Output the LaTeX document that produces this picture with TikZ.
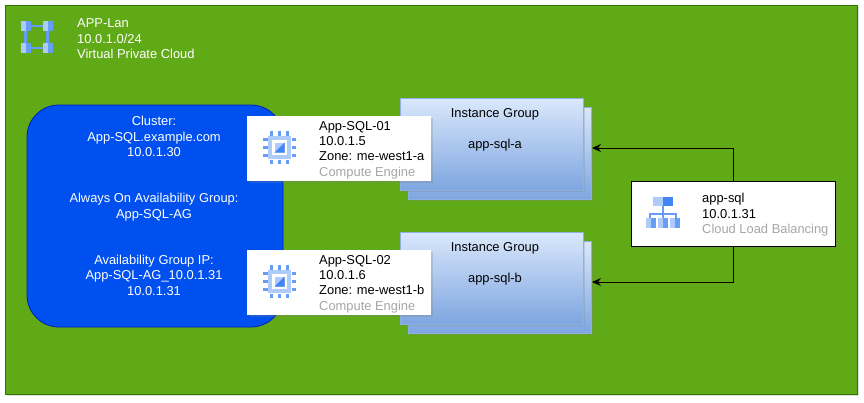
\documentclass[tikz,border=0pt]{standalone}
\usepackage{fontspec}
\setmainfont{Liberation Sans}
\usetikzlibrary{arrows.meta}
\usetikzlibrary{shadows}
\definecolor{vpcgreen}{HTML}{60A917}
\definecolor{vpcborder}{HTML}{2D7600}
\definecolor{clusterblue}{HTML}{0050EF}
\definecolor{clusterborder}{HTML}{001DBC}
\definecolor{grouptop}{HTML}{DAE8FC}
\definecolor{groupbottom}{HTML}{7EA6E0}
\definecolor{groupborder}{HTML}{8FB0E0}
\definecolor{icondark}{HTML}{4285F4}
\definecolor{iconmid}{HTML}{669DF6}
\definecolor{iconlight}{HTML}{AECBFA}
\tikzset{
    softshadow/.style = {drop shadow={shadow xshift=1.5pt,shadow yshift=-2pt,opacity=0.25}},
    vpc/.style = {rectangle,draw=vpcborder,fill=vpcgreen,line width=0.8pt,minimum width=852pt,minimum height=389pt,softshadow},
    cluster/.style = {rectangle,rounded corners=32pt,draw=clusterborder,fill=clusterblue,line width=0.8pt,minimum width=256pt,minimum height=222pt},
    group/.style = {rectangle,draw=groupborder,top color=grouptop,bottom color=groupbottom,line width=0.6pt,minimum width=183pt,minimum height=92pt,softshadow},
    card/.style = {rectangle,fill=white,minimum width=184pt,minimum height=65pt,softshadow},
    lbcard/.style = {rectangle,draw=black,fill=white,line width=0.8pt,minimum width=204pt,minimum height=65pt,softshadow},
    label/.style = {inner sep=0pt,font=\fontsize{12.9}{15.4}\selectfont},
    cardtext/.style = {label,align=left,anchor=west},
    wire/.style = {draw=black,line width=0.9pt,-{Stealth[length=9pt,width=8pt]}},
    pics/cpuicon/.style = {code={
        \foreach \p in {-8,0,8} {
            \fill[iconmid] (\p-1.5,-16.5) rectangle (\p+1.5,-12);
            \fill[iconmid] (\p-1.5,12) rectangle (\p+1.5,16.5);
            \fill[iconmid] (-16.5,\p-1.5) rectangle (-12,\p+1.5);
            \fill[iconmid] (12,\p-1.5) rectangle (16.5,\p+1.5);
        }
        \fill[iconlight] (-11.5,-11.5) rectangle (11.5,11.5);
        \fill[white] (-7.5,-7.5) rectangle (7.5,7.5);
        \fill[iconlight] (-5,-5) rectangle (5,5);
        \fill[icondark] (-5,5) -- (5,-5) -- (5,5) -- cycle;
    }},
    pics/lbicon/.style = {code={
        \draw[iconmid,line width=1.6pt] (0,-2) -- (0,6) (-13,10) -- (-13,6) -- (13,6) -- (13,10) (0,6) -- (0,10);
        \fill[iconlight] (-10,-11) rectangle (0,-2);
        \fill[icondark] (0,-11) rectangle (10,-2);
        \foreach \p in {-17,-5,7} {
            \fill[iconlight] (\p,10) rectangle (\p+5,20);
            \fill[iconmid] (\p+5,10) rectangle (\p+10,20);
        }
    }},
    pics/vpcicon/.style = {code={
        \draw[iconmid,line width=2.4pt] (-11,-11) rectangle (11,11);
        \foreach \p/\q in {-11/-11,11/-11,-11/11,11/11} {
            \fill[iconlight] (\p-5,\q-5) rectangle (\p,\q+5);
            \fill[iconmid] (\p,\q-5) rectangle (\p+5,\q+5);
        }
    }}}
\begin{document}
\begin{tikzpicture}[x=1pt,y=-1pt]
    \useasboundingbox (0,0) rectangle (864,402);
    % backdrop
    \node[vpc] (lan) at (431,199.5) {};
    \pic at (36.5,37) {vpcicon};
    \node[cardtext,text=white] (lantext) at (77,39) {APP-Lan\\10.0.1.0/24\\Virtual Private Cloud};
    \node[cluster] (blob) at (155,216) {};
    \node[label,align=center,text=white] (blobtext) at (154,206) {Cluster:\\App-SQL.example.com\\10.0.1.30\\ \\ \\Always On Availability Group:\\App-SQL-AG\\ \\ \\Availability Group IP:\\App-SQL-AG\_10.0.1.31\\10.0.1.31};
    % instance groups
    \node[group] (backa) at (500,153) {};
    \node[group] (fronta) at (491.5,144) {};
    \node[label] (titlea) at (495,114) {Instance Group};
    \node[label] (namea) at (495,145) {app-sql-a};
    \node[group] (backb) at (500,287) {};
    \node[group] (frontb) at (491.5,278) {};
    \node[label] (titleb) at (495,248) {Instance Group};
    \node[label] (nameb) at (495,279) {app-sql-b};
    % instances
    \node[card] (vma) at (339,148.5) {};
    \pic at (279.5,147.5) {cpuicon};
    \node[cardtext] (vmatext) at (319,150) {App-SQL-01\\10.0.1.5\\Zone: me-west1-a\\\textcolor{gray!70}{Compute Engine}};
    \node[card] (vmb) at (339,282.5) {};
    \pic at (279.5,281.5) {cpuicon};
    \node[cardtext] (vmbtext) at (319,284) {App-SQL-02\\10.0.1.6\\Zone: me-west1-b\\\textcolor{gray!70}{Compute Engine}};
    % balancer
    \node[lbcard] (lb) at (733,213.5) {};
    \pic at (663,208) {lbicon};
    \node[cardtext] (lbtext) at (702,215) {app-sql\\10.0.1.31\\\textcolor{gray!70}{Cloud Load Balancing}};
    \coordinate (ina) at (592,148);
    \coordinate (inb) at (592,282);
    \draw[wire] (lb.north) |- (ina);
    \draw[wire] (lb.south) |- (inb);
\end{tikzpicture}
\end{document}
